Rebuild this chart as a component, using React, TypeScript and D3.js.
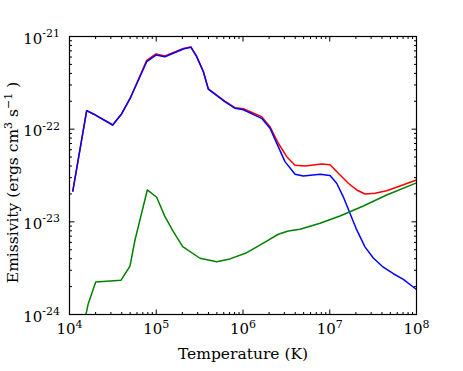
import React from 'react';
import * as d3 from 'd3';

// log10(T) and log10(emissivity)
const redLogT = [4.037, 4.198, 4.275, 4.498, 4.6, 4.705, 4.89, 4.997, 5.1, 5.312, 5.4, 5.466, 5.543, 5.6, 5.79, 5.908, 6.004, 6.215, 6.311, 6.407, 6.504, 6.6, 6.715, 6.907, 7.003, 7.099, 7.214, 7.311, 7.406, 7.522, 7.656, 7.81, 8.0];
const redLogE = [-22.675, -21.8, -21.836, -21.955, -21.836, -21.656, -21.258, -21.188, -21.21, -21.13, -21.112, -21.215, -21.378, -21.565, -21.697, -21.768, -21.78, -21.865, -21.973, -22.152, -22.297, -22.39, -22.397, -22.376, -22.383, -22.476, -22.584, -22.656, -22.7, -22.692, -22.664, -22.613, -22.549];

const blueLogT = [4.037, 4.198, 4.275, 4.498, 4.6, 4.705, 4.89, 4.997, 5.1, 5.312, 5.4, 5.466, 5.543, 5.6, 5.79, 5.908, 6.004, 6.215, 6.311, 6.388, 6.484, 6.6, 6.695, 6.888, 7.003, 7.08, 7.156, 7.234, 7.303, 7.406, 7.502, 7.617, 7.733, 7.848, 8.0];
const blueLogE = [-22.675, -21.8, -21.836, -21.955, -21.836, -21.656, -21.272, -21.2, -21.218, -21.135, -21.117, -21.218, -21.38, -21.567, -21.703, -21.775, -21.79, -21.883, -21.99, -22.15, -22.35, -22.487, -22.505, -22.487, -22.5, -22.584, -22.73, -22.91, -23.07, -23.27, -23.39, -23.49, -23.56, -23.62, -23.73];

const greenLogT = [4.18, 4.217, 4.302, 4.594, 4.697, 4.755, 4.897, 5.005, 5.1, 5.197, 5.305, 5.504, 5.697, 5.85, 6.043, 6.234, 6.407, 6.522, 6.657, 6.888, 7.118, 7.387, 7.656, 8.0];
const greenLogE = [-24.04, -23.88, -23.65, -23.63, -23.477, -23.196, -22.656, -22.735, -22.944, -23.106, -23.268, -23.393, -23.43, -23.4, -23.333, -23.23, -23.134, -23.099, -23.08, -23.016, -22.937, -22.829, -22.71, -22.58];

const xDecades = [4, 5, 6, 7, 8];
const yDecades = [-24, -23, -22, -21];

const series = [
  { name: 'red', color: '#ff0000', t: redLogT, e: redLogE },
  { name: 'blue', color: '#0000ff', t: blueLogT, e: blueLogE },
  { name: 'green', color: '#008000', t: greenLogT, e: greenLogE },
];

const W = 463, H = 371;
const left = 69.5, right = 416.5, top = 36.5, bottom = 314.5;
const font = '"DejaVu Serif", serif';

export default function App() {
  const x = d3.scaleLog().domain([1e4, 1e8]).range([left, right]);
  const y = d3.scaleLog().domain([1e-24, 1e-21]).range([bottom, top]);

  const line = d3.line<[number, number]>()
    .x(d => x(d[0]))
    .y(d => y(d[1]));

  const minorX: number[] = [];
  xDecades.slice(0, -1).forEach(d => { for (let k = 2; k < 10; k++) minorX.push(k * 10 ** d); });
  const minorY: number[] = [];
  yDecades.slice(0, -1).forEach(d => { for (let k = 2; k < 10; k++) minorY.push(k * 10 ** d); });

  const maj = 5, mnr = 2.5;

  return (
    <svg width={W} height={H} style={{ position: 'absolute', left: 0, top: 0, background: '#fff' }} fontFamily={font}>
      <defs>
        <clipPath id="plot">
          <rect x={left} y={top} width={right - left} height={bottom - top} />
        </clipPath>
      </defs>
      <g clipPath="url(#plot)">
        {series.map(s => (
          <path key={s.name}
            d={line(s.t.map((t, i) => [10 ** t, 10 ** s.e[i]] as [number, number])) || ''}
            fill="none" stroke={s.color} strokeWidth={1.5} strokeLinejoin="round" />
        ))}
      </g>
      <g stroke="#000" strokeWidth={1}>
        {xDecades.map(d => (
          <g key={'xm' + d}>
            <line x1={x(10 ** d)} x2={x(10 ** d)} y1={bottom} y2={bottom - maj} />
            <line x1={x(10 ** d)} x2={x(10 ** d)} y1={top} y2={top + maj} />
          </g>
        ))}
        {minorX.map(v => (
          <g key={'xn' + v}>
            <line x1={x(v)} x2={x(v)} y1={bottom} y2={bottom - mnr} />
            <line x1={x(v)} x2={x(v)} y1={top} y2={top + mnr} />
          </g>
        ))}
        {yDecades.map(d => (
          <g key={'ym' + d}>
            <line x1={left} x2={left + maj} y1={y(10 ** d)} y2={y(10 ** d)} />
            <line x1={right} x2={right - maj} y1={y(10 ** d)} y2={y(10 ** d)} />
          </g>
        ))}
        {minorY.map(v => (
          <g key={'yn' + v}>
            <line x1={left} x2={left + mnr} y1={y(v)} y2={y(v)} />
            <line x1={right} x2={right - mnr} y1={y(v)} y2={y(v)} />
          </g>
        ))}
      </g>
      <rect x={left} y={top} width={right - left} height={bottom - top} fill="none" stroke="#000" strokeWidth={1.2} />
      {xDecades.map(d => (
        <text key={'xl' + d} x={x(10 ** d)} y={334} textAnchor="middle" fontSize={15}>
          10<tspan dy={-6.5} fontSize={11}>{d}</tspan>
        </text>
      ))}
      {yDecades.map(d => (
        <text key={'yl' + d} x={60} y={y(10 ** d) + 7} textAnchor="end" fontSize={15}>
          10<tspan dy={-6.5} fontSize={11}>{d}</tspan>
        </text>
      ))}
      <text x={(left + right) / 2} y={358.5} textAnchor="middle" fontSize={15.5}>Temperature (K)</text>
      <text transform={`translate(18,${(top + bottom) / 2 + 7}) rotate(-90)`} textAnchor="middle" fontSize={15.5}>
        Emissivity (ergs cm<tspan dy={-6.5} fontSize={11}>3</tspan><tspan dy={6.5}> s</tspan><tspan dy={-6.5} fontSize={11}>−1</tspan><tspan dy={6.5}> )</tspan>
      </text>
    </svg>
  );
}
